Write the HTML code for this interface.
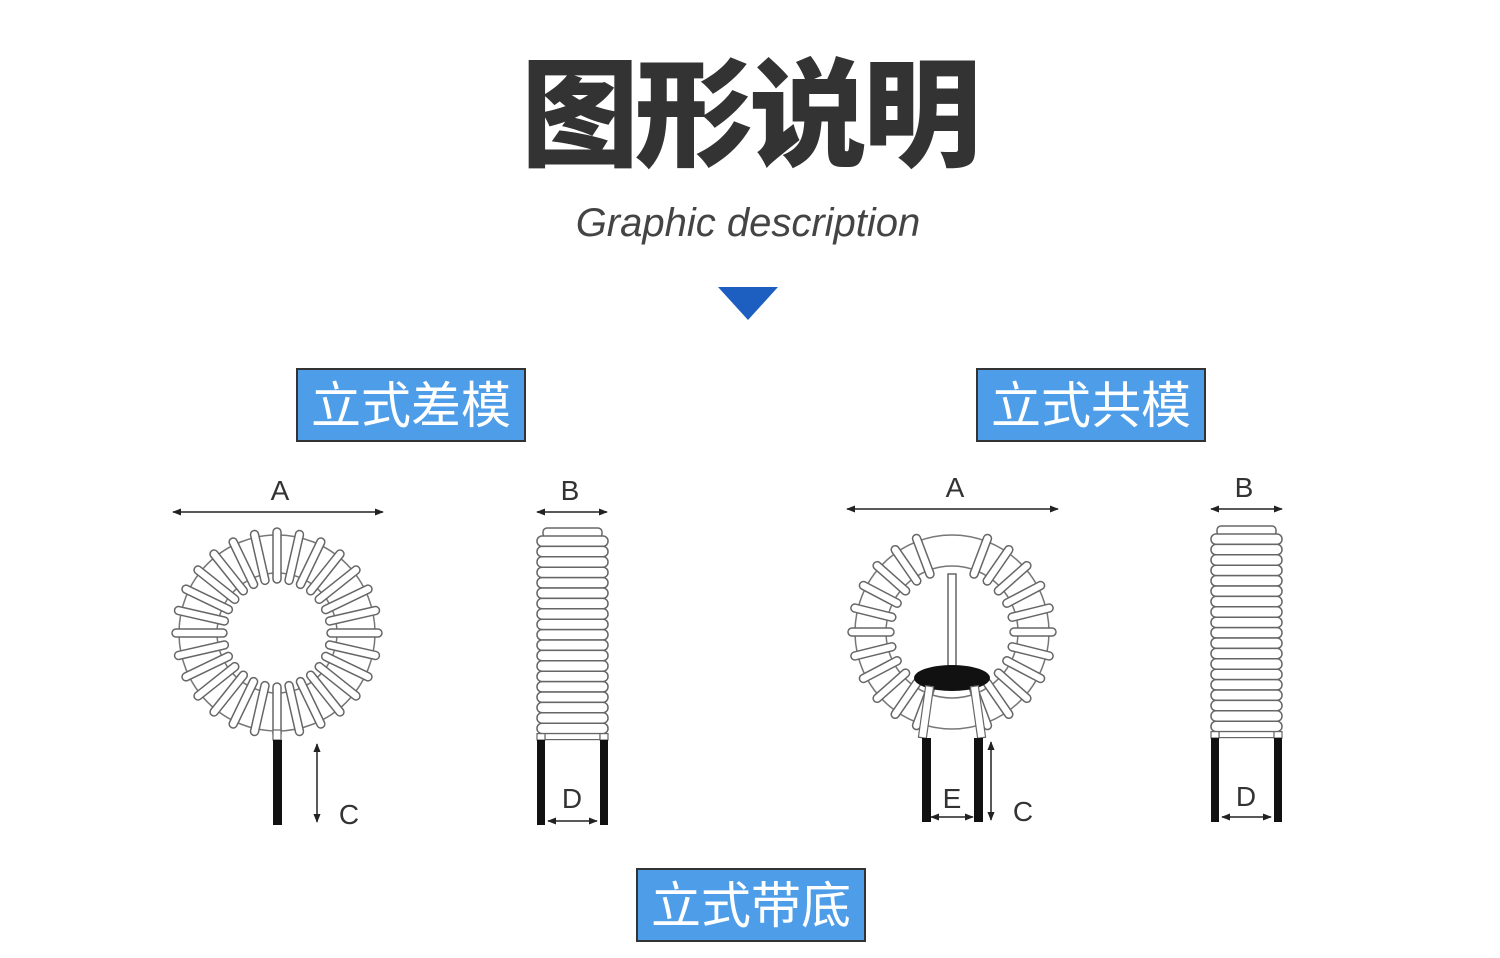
<!DOCTYPE html>
<html><head><meta charset="utf-8"><style>
html,body{margin:0;padding:0;background:#fff;width:1500px;height:958px;overflow:hidden}
svg{display:block}
</style></head><body>
<svg id="s" width="1500" height="958" viewBox="0 0 1500 958" xmlns="http://www.w3.org/2000/svg">
<defs>
<marker id="ar" viewBox="0 0 10 10" refX="9" refY="5" markerWidth="6" markerHeight="6" orient="auto-start-reverse"><path d="M0,1 L10,5 L0,9 z" fill="#222"/></marker>
</defs>
<text x="749" y="157" text-anchor="middle" font-family="'Liberation Sans','Noto Sans CJK SC',sans-serif" font-weight="900" font-size="118" fill="#333" letter-spacing="-4">图形说明</text>
<text x="748" y="236" text-anchor="middle" font-family="'Liberation Sans',sans-serif" font-style="italic" font-size="40" fill="#444">Graphic description</text>
<polygon points="718,287 778,287 748,320" fill="#1d5fc0"/>

<g font-family="'Liberation Sans','Noto Sans CJK SC',sans-serif" font-size="50" fill="#fff" text-anchor="middle">
<rect x="297" y="369" width="228" height="72" fill="#4d9de9" stroke="#333" stroke-width="2"/>
<text x="411" y="423">立式差模</text>
<rect x="977" y="369" width="228" height="72" fill="#4d9de9" stroke="#333" stroke-width="2"/>
<text x="1091" y="423">立式共模</text>
<rect x="637" y="869" width="228" height="72" fill="#4d9de9" stroke="#333" stroke-width="2"/>
<text x="751" y="923">立式带底</text>
</g>

<g font-family="'Liberation Sans',sans-serif" font-size="28" fill="#333" text-anchor="middle">
<text x="280" y="500">A</text><text x="570" y="500">B</text><text x="349" y="824">C</text><text x="572" y="808">D</text>
<text x="955" y="497">A</text><text x="1244" y="497">B</text><text x="1023" y="821">C</text><text x="952" y="808">E</text><text x="1246" y="806">D</text>
</g>
<g stroke="#222" stroke-width="1.5" fill="none">
<line x1="173" y1="512" x2="383" y2="512" marker-start="url(#ar)" marker-end="url(#ar)"/>
<line x1="537" y1="512" x2="607" y2="512" marker-start="url(#ar)" marker-end="url(#ar)"/>
<line x1="317" y1="744" x2="317" y2="822" marker-start="url(#ar)" marker-end="url(#ar)"/>
<line x1="548" y1="821" x2="597" y2="821" marker-start="url(#ar)" marker-end="url(#ar)"/>
<line x1="847" y1="509" x2="1058" y2="509" marker-start="url(#ar)" marker-end="url(#ar)"/>
<line x1="1211" y1="509" x2="1282" y2="509" marker-start="url(#ar)" marker-end="url(#ar)"/>
<line x1="991" y1="742" x2="991" y2="820" marker-start="url(#ar)" marker-end="url(#ar)"/>
<line x1="931" y1="817" x2="973" y2="817" marker-start="url(#ar)" marker-end="url(#ar)"/>
<line x1="1222" y1="817" x2="1271" y2="817" marker-start="url(#ar)" marker-end="url(#ar)"/>
</g>
<g id="dyn"></g>
</svg>
<script>
var g=document.getElementById('dyn'),h='';
function toroid(cx,cy,Ro,Ri,s1,s2,n,skip){
 h+='<circle cx="'+cx+'" cy="'+cy+'" r="'+Ro+'" fill="#fff" stroke="#777" stroke-width="1.5"/>';
 h+='<circle cx="'+cx+'" cy="'+cy+'" r="'+Ri+'" fill="#fff" stroke="#777" stroke-width="1.5"/>';
 for(var i=0;i<n;i++){var a=i*360/n; if(skip&&skip(a))continue;
  h+='<rect x="'+(cx+s1)+'" y="'+(cy-4)+'" width="'+(s2-s1)+'" height="8" rx="4" fill="#fff" stroke="#666" stroke-width="1.5" transform="rotate('+a+' '+cx+' '+cy+')"/>';}
}
function side(x,y,w,n,step,ly1,ly2){
 h+='<rect x="'+(x+6)+'" y="'+(y)+'" width="'+(w-12)+'" height="10" rx="4" fill="#fff" stroke="#666" stroke-width="1.5"/>';
 for(var i=0;i<n;i++) h+='<rect x="'+x+'" y="'+(y+8+i*step)+'" width="'+w+'" height="'+step+'" rx="5" fill="#fff" stroke="#666" stroke-width="1.5"/>';
 var yb=y+8+n*step;
 h+='<rect x="'+(x+8)+'" y="'+yb+'" width="'+(w-16)+'" height="6" fill="#fff" stroke="#666" stroke-width="1.2"/>';
 h+='<rect x="'+x+'" y="'+yb+'" width="8" height="'+(ly1-yb)+'" fill="#fff" stroke="#666" stroke-width="1.2"/>';
 h+='<rect x="'+(x+w-8)+'" y="'+yb+'" width="8" height="'+(ly1-yb)+'" fill="#fff" stroke="#666" stroke-width="1.2"/>';
 h+='<rect x="'+x+'" y="'+ly1+'" width="8" height="'+(ly2-ly1)+'" fill="#111"/>';
 h+='<rect x="'+(x+w-8)+'" y="'+ly1+'" width="8" height="'+(ly2-ly1)+'" fill="#111"/>';
}
// left toroid
toroid(277,633,98,60,50,105,28);
h+='<rect x="273" y="730" width="8" height="10" fill="#fff" stroke="#666" stroke-width="1.2"/>';
h+='<rect x="273" y="740" width="9" height="85" fill="#111"/>';
side(537,528,71,19,10.4,740,825);
// right toroid
toroid(952,632,97,66,58,104,26,function(a){var d=(a%360);return (d>250&&d<290)||(d>80&&d<100);});
h+='<rect x="948" y="574" width="8" height="92" fill="#fff" stroke="#666" stroke-width="1.5"/>';
h+='<ellipse cx="952" cy="678" rx="38" ry="13" fill="#111"/>';
h+='<rect x="922" y="686" width="8" height="52" fill="#fff" stroke="#666" stroke-width="1.2" transform="rotate(8 926 712)"/>';
h+='<rect x="974" y="686" width="8" height="52" fill="#fff" stroke="#666" stroke-width="1.2" transform="rotate(-8 978 712)"/>';
h+='<rect x="922" y="738" width="9" height="84" fill="#111"/>';
h+='<rect x="974" y="738" width="9" height="84" fill="#111"/>';
side(1211,526,71,19,10.4,738,822);
g.innerHTML=h;
</script>
</body></html>
